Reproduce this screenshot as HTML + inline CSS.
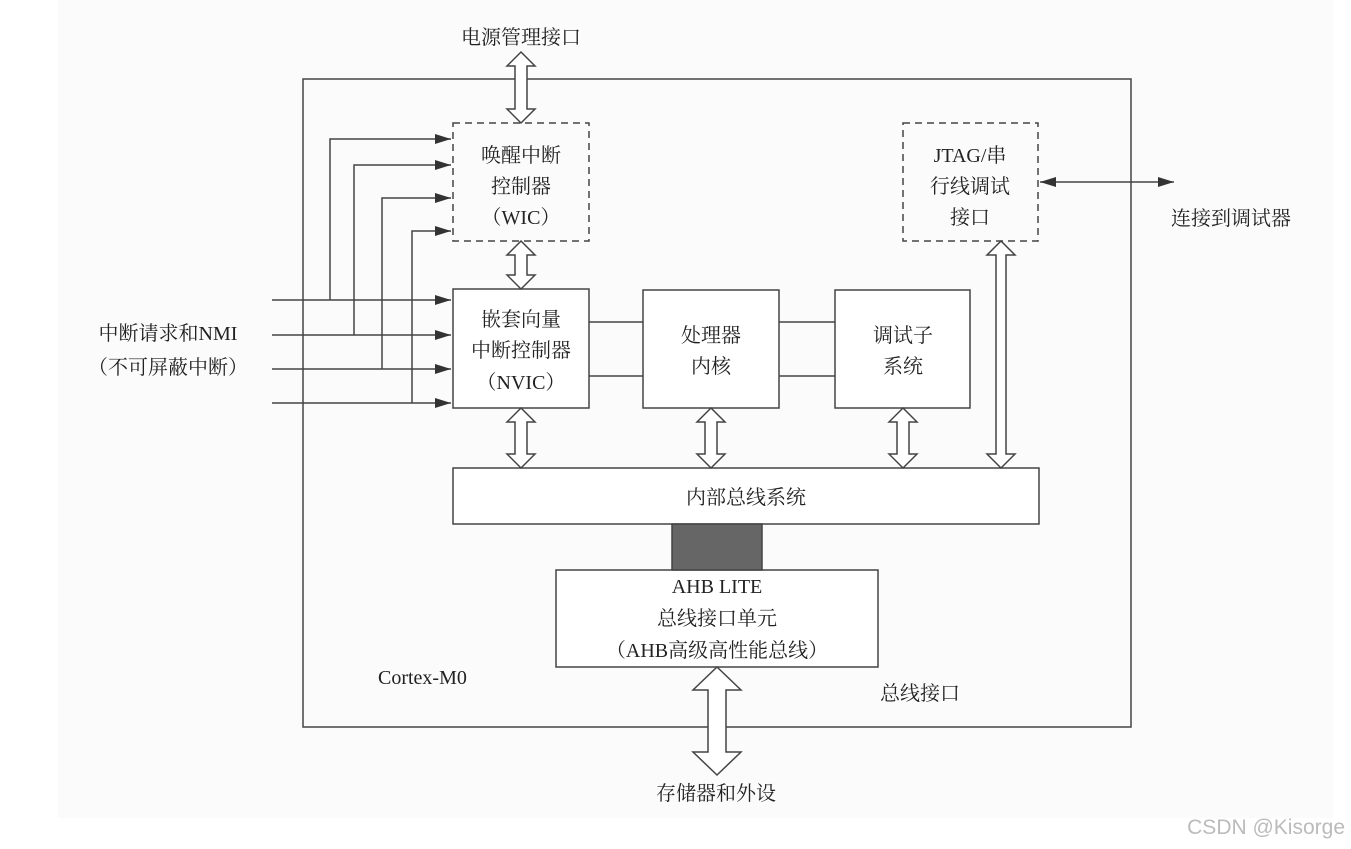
<!DOCTYPE html>
<html><head><meta charset="utf-8"><style>
html,body{margin:0;padding:0;background:#fff;}
svg{display:block}
text{font-family:"Liberation Serif","Noto Serif CJK SC",serif;font-size:20px;fill:#222;}
</style></head><body>
<svg width="1351" height="849" viewBox="0 0 1351 849">
<defs>
<marker id="ah" markerWidth="10" markerHeight="8" refX="10" refY="4" orient="auto" markerUnits="userSpaceOnUse">
<path d="M0,0 L14,4 L0,8 Z" fill="#333"/>
</marker>
<marker id="ah2" viewBox="0 0 16 10" markerWidth="16" markerHeight="10" refX="16" refY="5" orient="auto" markerUnits="userSpaceOnUse">
<path d="M0,0 L16,5 L0,10 Z" fill="#333"/>
</marker>
<marker id="ah3" viewBox="0 0 16 10" markerWidth="16" markerHeight="10" refX="0" refY="5" orient="auto" markerUnits="userSpaceOnUse">
<path d="M16,0 L0,5 L16,10 Z" fill="#333"/>
</marker>
</defs>
<rect x="58" y="0" width="1275" height="818" fill="#fbfbfb"/>
<g stroke="#444" stroke-width="1.5" fill="none">
<rect x="303" y="79" width="828" height="648"/>
<rect x="453" y="123" width="136" height="118" stroke-dasharray="7,5"/>
<rect x="903" y="123" width="135" height="118" stroke-dasharray="7,5"/>
<rect x="453" y="289" width="136" height="119" fill="#fff"/>
<rect x="643" y="290" width="136" height="118" fill="#fff"/>
<rect x="835" y="290" width="135" height="118" fill="#fff"/>
<rect x="453" y="468" width="586" height="56" fill="#fff"/>
<rect x="556" y="570" width="322" height="97" fill="#fff"/>
<line x1="589" y1="322" x2="643" y2="322"/><line x1="589" y1="376" x2="643" y2="376"/>
<line x1="779" y1="322" x2="835" y2="322"/><line x1="779" y1="376" x2="835" y2="376"/>
<!-- input lines -->
<line x1="272" y1="300" x2="451" y2="300" marker-end="url(#ah2)"/>
<line x1="272" y1="335" x2="451" y2="335" marker-end="url(#ah2)"/>
<line x1="272" y1="369" x2="451" y2="369" marker-end="url(#ah2)"/>
<line x1="272" y1="403" x2="451" y2="403" marker-end="url(#ah2)"/>
<polyline points="330,300 330,139 451,139" marker-end="url(#ah2)"/>
<polyline points="354,335 354,165 451,165" marker-end="url(#ah2)"/>
<polyline points="382,369 382,198 451,198" marker-end="url(#ah2)"/>
<polyline points="412,403 412,231 451,231" marker-end="url(#ah2)"/>
<line x1="1040" y1="182" x2="1174" y2="182" marker-start="url(#ah3)" marker-end="url(#ah2)"/>
</g>
<rect x="672" y="524" width="90" height="46" fill="#666" stroke="#444" stroke-width="1.5"/>
<g stroke="#444" stroke-width="1.5" fill="#fff">
<path d="M521,52 L535,66 L527,66 L527,109 L535,109 L521,123 L507,109 L515,109 L515,66 L507,66 Z"/>
<path d="M521,241 L535,255 L527,255 L527,275 L535,275 L521,289 L507,275 L515,275 L515,255 L507,255 Z"/>
<path d="M521,408 L535,422 L527,422 L527,454 L535,454 L521,468 L507,454 L515,454 L515,422 L507,422 Z"/>
<path d="M711,408 L725,422 L717,422 L717,454 L725,454 L711,468 L697,454 L705,454 L705,422 L697,422 Z"/>
<path d="M903,408 L917,422 L909,422 L909,454 L917,454 L903,468 L889,454 L897,454 L897,422 L889,422 Z"/>
<path d="M1001,241 L1015,255 L1006,255 L1006,454 L1015,454 L1001,468 L987,454 L996,454 L996,255 L987,255 Z"/>
<path d="M717,667 L741,690 L726,690 L726,752 L741,752 L717,775 L693,752 L708,752 L708,690 L693,690 Z"/>
</g>
<text x="521" y="44" text-anchor="middle">电源管理接口</text>
<text x="521" y="162" text-anchor="middle">唤醒中断</text>
<text x="521" y="193" text-anchor="middle">控制器</text>
<text x="521" y="224" text-anchor="middle">（WIC）</text>
<text x="970" y="162" text-anchor="middle">JTAG/串</text>
<text x="970" y="193" text-anchor="middle">行线调试</text>
<text x="970" y="224" text-anchor="middle">接口</text>
<text x="1231" y="225" text-anchor="middle">连接到调试器</text>
<text x="521" y="326" text-anchor="middle">嵌套向量</text>
<text x="521" y="357" text-anchor="middle">中断控制器</text>
<text x="521" y="389" text-anchor="middle">（NVIC）</text>
<text x="711" y="342" text-anchor="middle">处理器</text>
<text x="711" y="373" text-anchor="middle">内核</text>
<text x="903" y="342" text-anchor="middle">调试子</text>
<text x="903" y="373" text-anchor="middle">系统</text>
<text x="168" y="340" text-anchor="middle">中断请求和NMI</text>
<text x="168" y="374" text-anchor="middle">（不可屏蔽中断）</text>
<text x="746" y="504" text-anchor="middle">内部总线系统</text>
<text x="717" y="593" text-anchor="middle">AHB LITE</text>
<text x="717" y="625" text-anchor="middle">总线接口单元</text>
<text x="717" y="657" text-anchor="middle">（AHB高级高性能总线）</text>
<text x="378" y="684">Cortex-M0</text>
<text x="880" y="700">总线接口</text>
<text x="716" y="800" text-anchor="middle">存储器和外设</text>
<text x="1345" y="834" text-anchor="end" style="font-family:'Liberation Sans',sans-serif;font-size:21px;fill:#bbb">CSDN @Kisorge</text>
</svg>
</body></html>
